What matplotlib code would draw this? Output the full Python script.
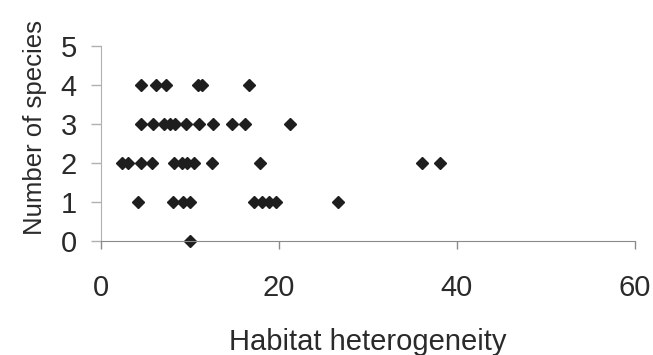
import numpy as np
import matplotlib.pyplot as plt

plt.rcParams['font.family'] = ['Liberation Sans', 'DejaVu Sans']

# values, grouped by species count
heterogeneity = [
    4.5, 6.2, 7.4, 11.0, 11.4, 16.7,                               # 4
    4.5, 5.9, 7.1, 7.8, 8.4, 9.6, 11.1, 12.6, 14.8, 16.2, 21.3,    # 3
    2.4, 3.1, 4.5, 5.8, 8.2, 9.1, 9.7, 10.5, 12.5, 17.9, 36.1, 38.1,  # 2
    4.2, 8.1, 9.3, 10.1, 17.2, 18.1, 18.9, 19.7, 26.7,             # 1
    10.0,                                                          # 0
]
n_species = [4] * 6 + [3] * 11 + [2] * 12 + [1] * 9 + [0]

x_ticks = [0, 20, 40, 60]
y_ticks = [0, 1, 2, 3, 4, 5]

W, H = 653, 355
fig = plt.figure(figsize=(W / 100, H / 100), dpi=100)
# axes box in pixels: left 100.5, right 635, bottom (y=0) 241, top (y=5) 46
ax = fig.add_axes([100.5 / W, (H - 241) / H, (635 - 100.5) / W, (241 - 46) / H])

ax.plot(heterogeneity, n_species, linestyle='none', marker='D',
        markersize=6.3, color='#1e1e1e', clip_on=False)

ax.set_xlim(0, 60)
ax.set_ylim(0, 5)
ax.set_xticks(x_ticks)
ax.set_yticks(y_ticks)

for s in ['top', 'right']:
    ax.spines[s].set_visible(False)
ax.spines['bottom'].set_color('#8a8a8a')
ax.spines['left'].set_color('#b0b0b0')
ax.tick_params(axis='x', direction='out', length=6, width=1, colors='#8a8a8a',
               labelcolor='#2a2a2a', labelsize=21, pad=18)
ax.tick_params(axis='y', direction='out', length=7, width=1, colors='#b0b0b0',
               labelcolor='#2a2a2a', labelsize=21, pad=10)

ax.set_xlabel('Habitat heterogeneity', fontsize=21, color='#2a2a2a')
ax.set_ylabel('Number of species', fontsize=18.5, color='#2a2a2a')
ax.xaxis.set_label_coords(0.5, -0.445)
ax.yaxis.set_label_coords(-0.1, 0.58)

fig.savefig('out.png', dpi=100)
